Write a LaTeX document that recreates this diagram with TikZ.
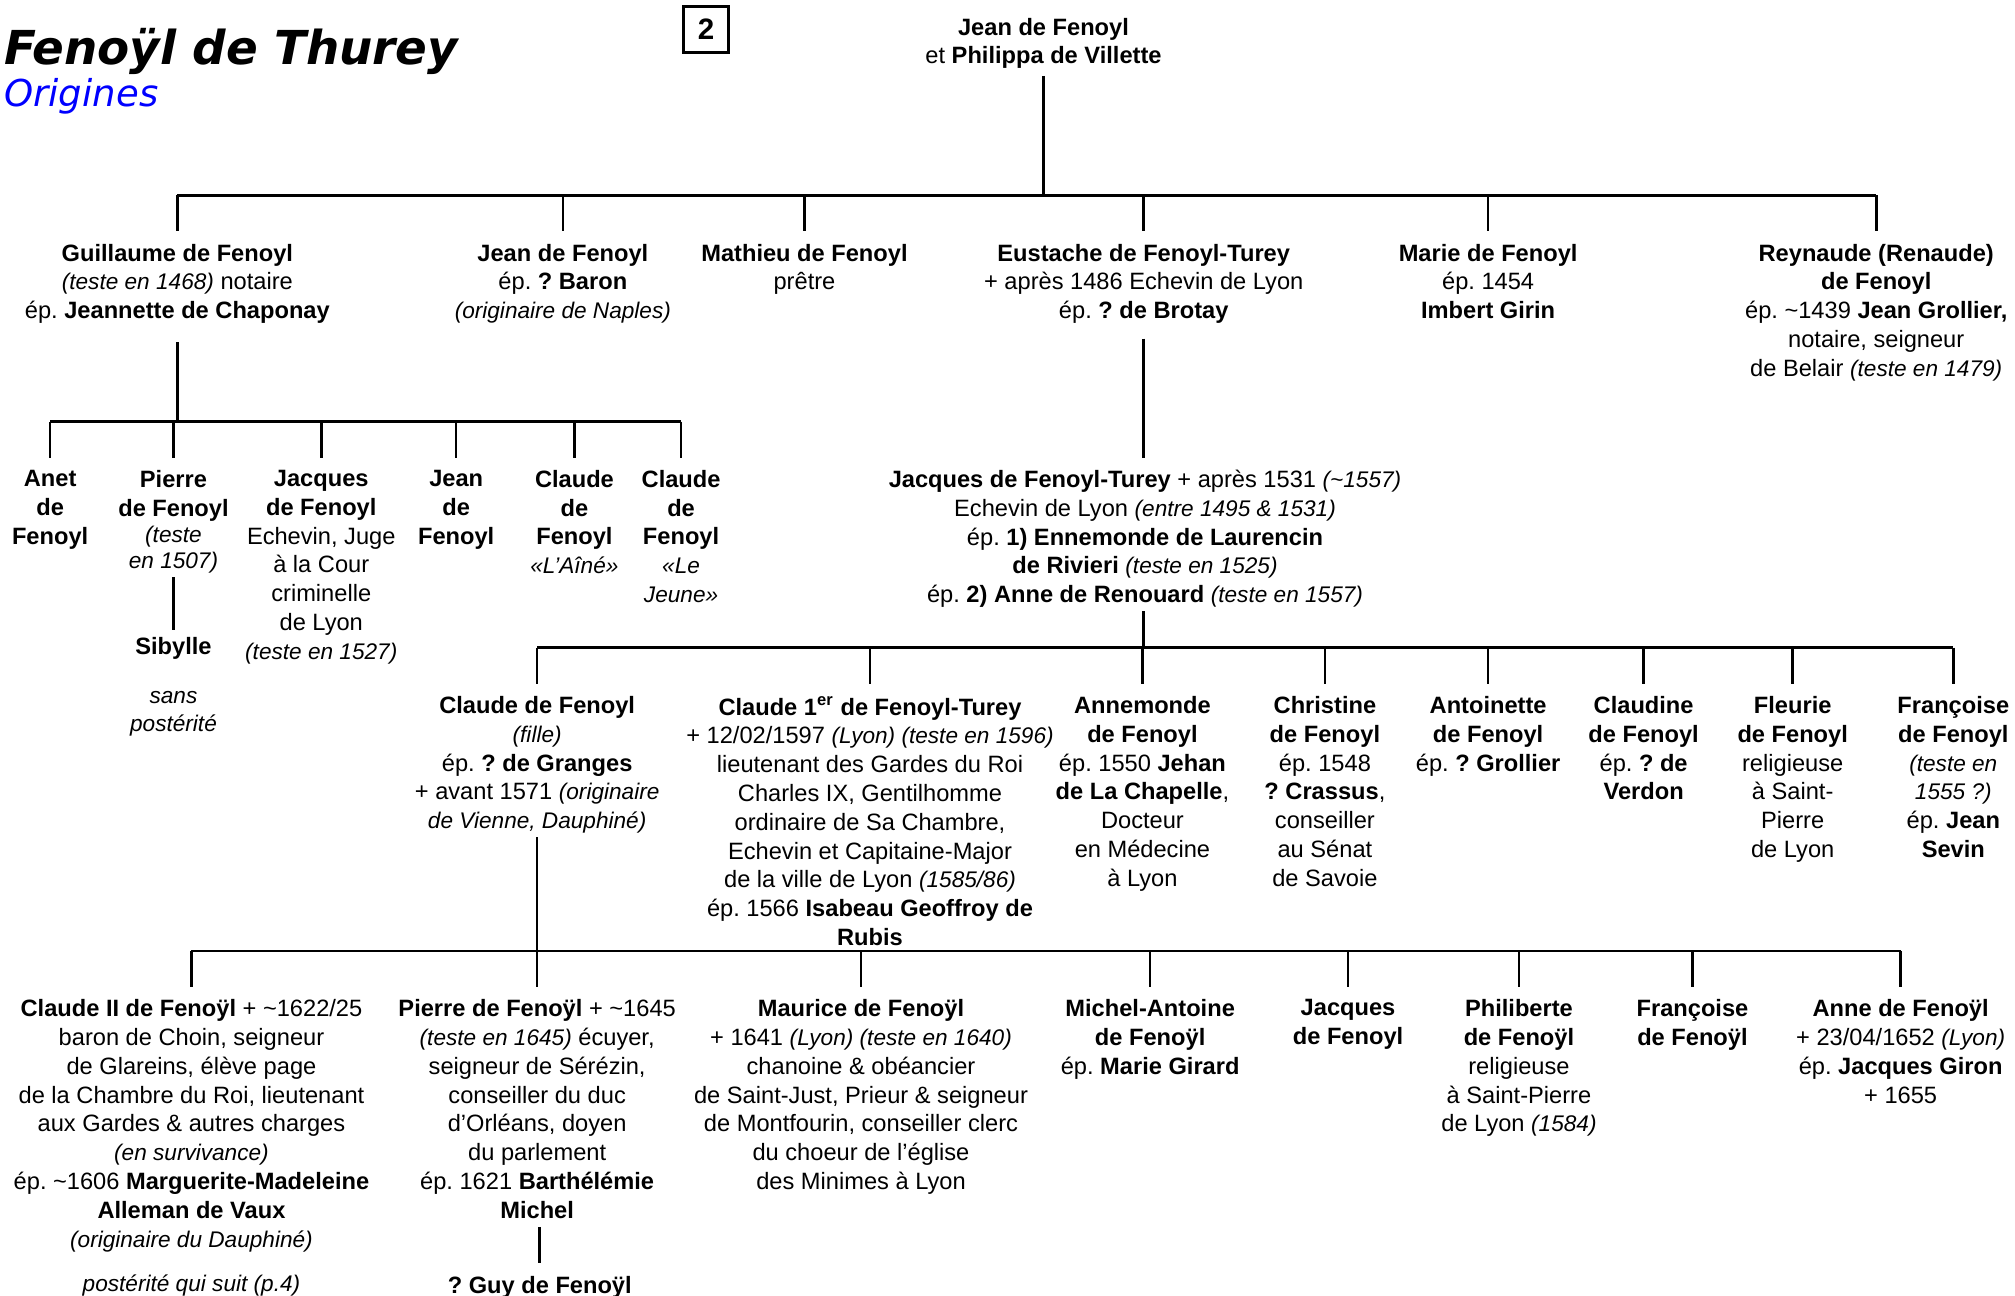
\documentclass[tikz,border=0pt]{standalone}
\usepackage{fontspec}
\setmainfont{Liberation Sans}
\newfontfamily\titlefont{DejaVu Sans}[ItalicFont=DejaVu Sans Oblique, BoldItalicFont=DejaVu Sans Bold Oblique]
\newcommand\pit[1]{{\fontsize{8.8}{11.2}\selectfont\itshape #1}}
\newcommand\pb[1]{\textbf{#1}}
\tikzset{
  person/.style={align=center, anchor=north, inner sep=0pt, outer sep=0pt,
    font=\fontsize{9.2}{11.2}\selectfont\frenchspacing,
    execute at begin node=\strut, execute at end node=\strut},
  link/.style={line width=1pt},
  drop/.style={link, shorten >=4.95pt},
}
\begin{document}
\frenchspacing
\begin{tikzpicture}[x=0.5pt, y=-0.5pt]
\fill[white] (0,0) rectangle (1568,1008);
\useasboundingbox (0,0) rectangle (1568,1008);

% title
\node[anchor=base west, inner sep=0pt, font=\titlefont\fontsize{18.2}{20}\selectfont\bfseries\itshape] (title) at (3,50) {Fenoÿl de Thurey};
\node[anchor=base west, inner sep=0pt, text={rgb,255:red,0;green,0;blue,255}, font=\titlefont\fontsize{14.4}{16}\selectfont\itshape] (subtitle) at (3,83) {Origines};
\node[draw, line width=1pt, minimum width=17.5pt, minimum height=18pt, inner sep=0pt, font=\fontsize{11.5}{13}\selectfont\bfseries] (pagebox) at (549.5,23) {2};

% generation 1
\node[person] (root) at (812,13.9) {\pb{Jean de Fenoyl}\\et \pb{Philippa de Villette}};

% generation 2
\coordinate (bar1) at (812,152);
\node[person] (guillaume) at (138,189.9) {\pb{Guillaume de Fenoyl}\\\pit{(teste en 1468)} notaire\\ép. \pb{Jeannette de Chaponay}};
\node[person] (jeanB) at (438,189.9) {\pb{Jean de Fenoyl}\\ép. \pb{? Baron}\\\pit{(originaire de Naples)}};
\node[person] (mathieu) at (626,189.9) {\pb{Mathieu de Fenoyl}\\prêtre};
\node[person] (eustache) at (890,189.9) {\pb{Eustache de Fenoyl-Turey}\\+ après 1486 Echevin de Lyon\\ép. \pb{? de Brotay}};
\node[person] (marie) at (1158,189.9) {\pb{Marie de Fenoyl}\\ép. 1454\\\pb{Imbert Girin}};
\node[person] (reynaude) at (1460,189.9) {\pb{Reynaude (Renaude)}\\\pb{de Fenoyl}\\ép. \textasciitilde1439 \pb{Jean Grollier,}\\notaire, seigneur\\de Belair \pit{(teste en 1479)}};

\draw[link, shorten <=1.35pt] (root.south) -- (root.south |- bar1);
\draw[link] (guillaume.north |- bar1) -- (reynaude.north |- bar1);
\foreach \c in {guillaume, jeanB, mathieu, eustache, marie, reynaude}
  \draw[drop] (\c.north |- bar1) -- (\c.north);

% generation 3 (Guillaume)
\coordinate (bar2) at (138,328);
\node[person] (anet) at (39,365.9) {\pb{Anet}\\\pb{de}\\\pb{Fenoyl}};
\node[person] (pierreA) at (135,365.9) {\pb{Pierre}\\\pb{de Fenoyl}\\[-1pt]\pit{(teste}\\[-1pt]\pit{en 1507)}};
\node[person] (jacquesA) at (250,365.9) {\pb{Jacques}\\\pb{de Fenoyl}\\Echevin, Juge\\à la Cour\\criminelle\\de Lyon\\\pit{(teste en 1527)}};
\node[person] (jeanA) at (355,365.9) {\pb{Jean}\\\pb{de}\\\pb{Fenoyl}};
\node[person] (claudeA) at (447,365.9) {\pb{Claude}\\\pb{de}\\\pb{Fenoyl}\\\pit{«L’Aîné»}};
\node[person] (claudeB) at (530,365.9) {\pb{Claude}\\\pb{de}\\\pb{Fenoyl}\\\pit{«Le}\\\pit{Jeune»}};
\node[person] (sibylle) at (135,495.9) {\pb{Sibylle}\\[7.75pt]\pit{sans}\\\pit{postérité}};

\draw[link, shorten <=5.85pt] (guillaume.south) -- (guillaume.south |- bar2);
\draw[link] (anet.north |- bar2) -- (claudeB.north |- bar2);
\foreach \c in {anet, pierreA, jacquesA, jeanA, claudeA, claudeB}
  \draw[drop] (\c.north |- bar2) -- (\c.north);
\draw[link, shorten >=2.95pt] (pierreA.south) -- (sibylle.north);

% generation 3 (Eustache)
\node[person] (jacquesT) at (891,365.9) {\pb{Jacques de Fenoyl-Turey} + après 1531 \pit{(\textasciitilde1557)}\\Echevin de Lyon \pit{(entre 1495 \& 1531)}\\ép. \pb{1) Ennemonde de Laurencin}\\\pb{de Rivieri} \pit{(teste en 1525)}\\ép. \pb{2) Anne de Renouard} \pit{(teste en 1557)}};
\draw[link, shorten <=4.35pt, shorten >=4.95pt] (eustache.south) -- (eustache.south |- jacquesT.north);

% generation 4
\coordinate (bar3) at (890,504);
\node[person] (claudeF) at (418,541.9) {\pb{Claude de Fenoyl}\\\pit{(fille)}\\ép. \pb{? de Granges}\\+ avant 1571 \pit{(originaire}\\\pit{de Vienne, Dauphiné)}};
\node[person] (claudeI) at (677,541.9) {\pb{Claude 1\textsuperscript{er} de Fenoyl-Turey}\\+ 12/02/1597 \pit{(Lyon) (teste en 1596)}\\lieutenant des Gardes du Roi\\Charles IX, Gentilhomme\\ordinaire de Sa Chambre,\\Echevin et Capitaine-Major\\de la ville de Lyon \pit{(1585/86)}\\ép. 1566 \pb{Isabeau Geoffroy de}\\\pb{Rubis}};
\node[person] (annemonde) at (889,541.9) {\pb{Annemonde}\\\pb{de Fenoyl}\\ép. 1550 \pb{Jehan}\\\pb{de La Chapelle},\\Docteur\\en Médecine\\à Lyon};
\node[person] (christine) at (1031,541.9) {\pb{Christine}\\\pb{de Fenoyl}\\ép. 1548\\\pb{? Crassus},\\conseiller\\au Sénat\\de Savoie};
\node[person] (antoinette) at (1158,541.9) {\pb{Antoinette}\\\pb{de Fenoyl}\\ép. \pb{? Grollier}};
\node[person] (claudine) at (1279,541.9) {\pb{Claudine}\\\pb{de Fenoyl}\\ép. \pb{? de}\\\pb{Verdon}};
\node[person] (fleurie) at (1395,541.9) {\pb{Fleurie}\\\pb{de Fenoyl}\\religieuse\\à Saint-\\Pierre\\de Lyon};
\node[person] (francoiseA) at (1520,541.9) {\pb{Françoise}\\\pb{de Fenoyl}\\\pit{(teste en}\\\pit{1555 ?)}\\ép. \pb{Jean}\\\pb{Sevin}};

\draw[link] (jacquesT.south -| bar3) -- (bar3);
\draw[link] (claudeF.north |- bar3) -- (francoiseA.north |- bar3);
\foreach \c in {claudeF, claudeI, annemonde, christine, antoinette, claudine, fleurie, francoiseA}
  \draw[drop] (\c.north |- bar3) -- (\c.north);

% generation 5
\coordinate (bar4) at (418,740);
\node[person] (claudeII) at (149,777.9) {\pb{Claude II de Fenoÿl} + \textasciitilde1622/25\\baron de Choin, seigneur\\de Glareins, élève page\\de la Chambre du Roi, lieutenant\\aux Gardes \& autres charges\\\pit{(en survivance)}\\ép. \textasciitilde1606 \pb{Marguerite-Madeleine}\\\pb{Alleman de Vaux}\\\pit{(originaire du Dauphiné)}\\[6pt]\pit{postérité qui suit (p.4)}};
\node[person] (pierreB) at (418,777.9) {\pb{Pierre de Fenoÿl} + \textasciitilde1645\\\pit{(teste en 1645)} écuyer,\\seigneur de Sérézin,\\conseiller du duc\\d’Orléans, doyen\\du parlement\\ép. 1621 \pb{Barthélémie}\\\pb{Michel}};
\node[person] (maurice) at (670,777.9) {\pb{Maurice de Fenoÿl}\\+ 1641 \pit{(Lyon) (teste en 1640)}\\chanoine \& obéancier\\de Saint-Just, Prieur \& seigneur\\de Montfourin, conseiller clerc\\du choeur de l’église\\des Minimes à Lyon};
\node[person] (michel) at (895,777.9) {\pb{Michel-Antoine}\\\pb{de Fenoÿl}\\ép. \pb{Marie Girard}};
\node[person] (jacquesB) at (1049,777.9) {\pb{Jacques}\\\pb{de Fenoyl}};
\node[person] (philiberte) at (1182,777.9) {\pb{Philiberte}\\\pb{de Fenoÿl}\\religieuse\\à Saint-Pierre\\de Lyon \pit{(1584)}};
\node[person] (francoiseB) at (1317,777.9) {\pb{Françoise}\\\pb{de Fenoÿl}};
\node[person] (anne) at (1479,777.9) {\pb{Anne de Fenoÿl}\\+ 23/04/1652 \pit{(Lyon)}\\ép. \pb{Jacques Giron}\\+ 1655};
\node[person] (guy) at (420,990.9) {\pb{? Guy de Fenoÿl}};

\draw[link] (claudeF.south) -- (bar4);
\draw[link] (claudeII.north |- bar4) -- (anne.north |- bar4);
\foreach \c in {claudeII, pierreB, maurice, michel, jacquesB, philiberte, francoiseB, anne}
  \draw[drop] (\c.north |- bar4) -- (\c.north);
\draw[link, shorten >=3.95pt] (pierreB.south -| guy.north) -- (guy.north);
\end{tikzpicture}
\end{document}
